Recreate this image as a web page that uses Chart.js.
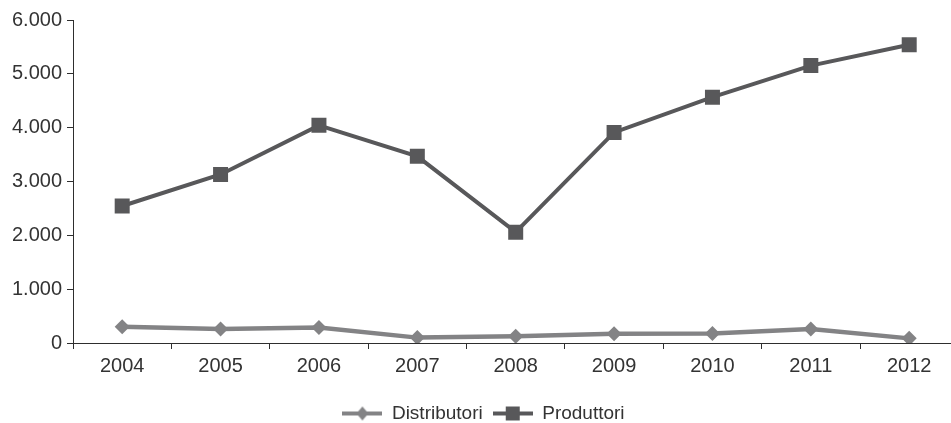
<!DOCTYPE html>
<html>
<head>
<meta charset="utf-8">
<script src="https://cdn.jsdelivr.net/npm/chart.js@4/dist/chart.umd.min.js"></script>
<style>
  html, body { margin: 0; padding: 0; background: #fff; overflow: hidden; }
  #wrap { width: 969px; height: 433px; }
</style>
</head>
<body>
<div id="wrap"><canvas id="c" width="969" height="433"></canvas></div>
<script>
const years = ['2004', '2005', '2006', '2007', '2008', '2009', '2010', '2011', '2012'];
const distributori = [300, 262, 287, 100, 124, 174, 175, 262, 86];
const produttori = [2545, 3131, 4043, 3468, 2059, 3912, 4567, 5153, 5540];
const yTicks = [0, 1000, 2000, 3000, 4000, 5000, 6000];

const FONT = '"Liberation Sans", Arial, sans-serif';
const TEXT = '#333333';
const AXIS = '#2e2e2e';
const C_DIST = '#838385';
const C_PROD = '#58585a';

function fmt(v) {
  return String(v).replace(/\B(?=(\d{3})+(?!\d))/g, '.');
}

// legend swatch: short line with the series marker in the middle
function swatch(color, marker) {
  const cv = document.createElement('canvas');
  cv.width = 40; cv.height = 16;
  const g = cv.getContext('2d');
  g.strokeStyle = color; g.lineWidth = 4;
  g.beginPath(); g.moveTo(0, 8); g.lineTo(40, 8); g.stroke();
  g.fillStyle = color;
  if (marker === 'square') {
    g.fillRect(13, 1, 14, 14);
  } else {
    g.beginPath(); g.moveTo(20, 1); g.lineTo(26, 8); g.lineTo(20, 15); g.lineTo(14, 8); g.closePath(); g.fill();
  }
  return cv;
}

new Chart(document.getElementById('c'), {
  type: 'line',
  data: {
    labels: years,
    datasets: [
      {
        label: 'Distributori',
        data: distributori,
        borderColor: C_DIST,
        backgroundColor: C_DIST,
        borderWidth: 4.5,
        pointStyle: 'rectRot',
        pointRadius: 7.5,
        pointHoverRadius: 7.5,
        pointBorderWidth: 0,
        tension: 0
      },
      {
        label: 'Produttori',
        data: produttori,
        borderColor: C_PROD,
        backgroundColor: C_PROD,
        borderWidth: 4,
        pointStyle: 'rect',
        pointRadius: 10.6,
        pointHoverRadius: 10.6,
        pointBorderWidth: 0,
        tension: 0
      }
    ]
  },
  options: {
    responsive: false,
    animation: false,
    layout: { padding: { top: 20, right: 2, left: 0, bottom: 0 } },
    plugins: {
      tooltip: { enabled: false },
      legend: {
        position: 'bottom',
        labels: {
          usePointStyle: true,
          pointStyleWidth: 40,
          padding: 10,
          color: TEXT,
          font: { family: FONT, size: 19 },
          generateLabels(chart) {
            return chart.data.datasets.map((ds, i) => ({
              text: ds.label,
              pointStyle: swatch(ds.borderColor, i === 0 ? 'diamond' : 'square'),
              fillStyle: ds.borderColor,
              strokeStyle: ds.borderColor,
              lineWidth: 0,
              fontColor: TEXT,
              datasetIndex: i
            }));
          }
        }
      }
    },
    scales: {
      x: {
        offset: true,
        grid: {
          offset: true,
          drawOnChartArea: false,
          drawTicks: true,
          tickLength: 6,
          color: AXIS,
          lineWidth: 1
        },
        border: { color: AXIS, width: 1 },
        ticks: { color: TEXT, font: { family: FONT, size: 20 }, padding: 5, maxRotation: 0 },
        afterFit(scale) { scale.height = 51; }
      },
      y: {
        min: 0,
        max: 6000,
        afterBuildTicks(scale) { scale.ticks = yTicks.map(v => ({ value: v })); },
        grid: {
          drawOnChartArea: false,
          drawTicks: true,
          tickLength: 6,
          color: AXIS,
          lineWidth: 1
        },
        border: { color: AXIS, width: 1 },
        ticks: {
          color: TEXT,
          font: { family: FONT, size: 20 },
          padding: 5,
          callback: v => fmt(v)
        },
        afterFit(scale) { scale.width = 73; }
      }
    }
  }
});
</script>
</body>
</html>
